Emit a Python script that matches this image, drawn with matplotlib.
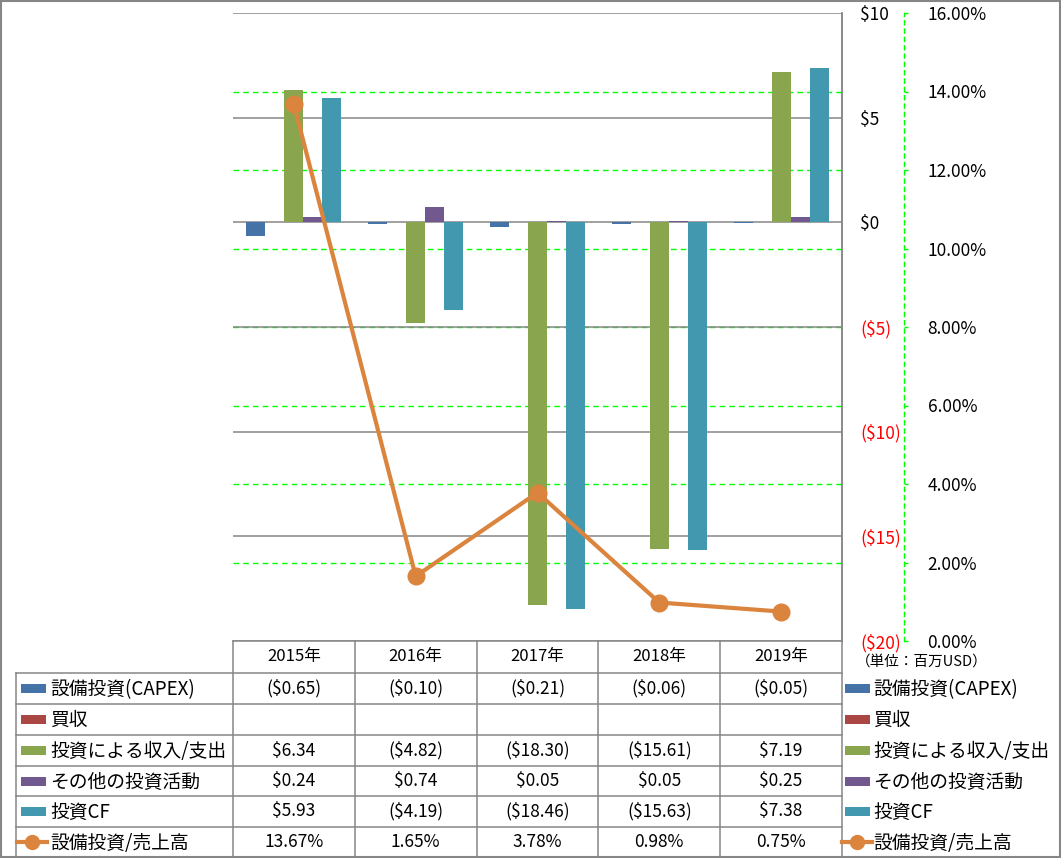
import numpy as np
import matplotlib.pyplot as plt
from matplotlib.patches import Rectangle
from matplotlib.lines import Line2D
from matplotlib.transforms import blended_transform_factory

plt.rcParams['font.family'] = ['Noto Sans CJK JP', 'DejaVu Sans']

# データ (単位: 百万USD)
years = ['2015年', '2016年', '2017年', '2018年', '2019年']
series_names = ['設備投資(CAPEX)', '買収', '投資による収入/支出', 'その他の投資活動', '投資CF']
capex = [-0.65, -0.10, -0.21, -0.06, -0.05]
kaishu = [np.nan, np.nan, np.nan, np.nan, np.nan]
toushi_shunyu = [6.34, -4.82, -18.30, -15.61, 7.19]
sonota = [0.24, 0.74, 0.05, 0.05, 0.25]
toushi_cf = [5.93, -4.19, -18.46, -15.63, 7.38]
ratio_name = '設備投資/売上高'
ratio = [13.67, 1.65, 3.78, 0.98, 0.75]  # %

colores = ['#4572A7', '#AA4643', '#89A54E', '#71588F', '#4198AF']
naranja = '#DB843D'
gris = '#868686'
verde = '#00FF00'

W, H = 1061, 858
fig = plt.figure(figsize=(W / 100, H / 100), dpi=100)

def caja(x0, y0, x1, y1):
    # pixel box -> figure fraction rect
    return [x0 / W, 1 - y1 / H, (x1 - x0) / W, (y1 - y0) / H]

ax = fig.add_axes(caja(233, 13, 842, 641))
ax2 = ax.twinx()

# Barras
todas = [capex, kaishu, toushi_shunyu, sonota, toushi_cf]
x = np.arange(len(years))
ancho = 0.156
for i, (vals, c) in enumerate(zip(todas, colores)):
    ax.bar(x + (i - 2) * ancho, vals, width=ancho, color=c, zorder=2)

ax.set_xlim(-0.5, len(years) - 0.5)
ax.set_xticks([])
ax.set_ylim(-20, 10)
yt = list(range(-20, 11, 5))

def fmt_dolar(v, dec=0):
    s = ('%.' + str(dec) + 'f') % abs(v)
    return '($%s)' % s if v < 0 else '$%s' % s

ax.set_yticks(yt, labels=[fmt_dolar(t) for t in yt])
ax.yaxis.tick_right()
ax.tick_params(axis='y', length=0, pad=13, labelsize=12.5)
for lab, t in zip(ax.get_yticklabels(), yt):
    lab.set_color('red' if t < 0 else 'black')
ax.yaxis.grid(True, color=gris, lw=1.1, zorder=0)
ax.set_axisbelow(True)
for s in ['left', 'top', 'bottom']:
    ax.spines[s].set_visible(False)
ax.spines['right'].set_color(gris)
ax.spines['right'].set_linewidth(1.1)
ax.patch.set_visible(False)

# Eje secundario
ax2.set_ylim(0, 16)
pt = list(range(0, 17, 2))
ax2.set_yticks(pt, labels=['%.2f%%' % p for p in pt])
ax2.tick_params(axis='y', length=3, width=1, color=verde, pad=14, labelsize=12.5)
for s in ['left', 'top', 'bottom']:
    ax2.spines[s].set_visible(False)
ax2.spines['right'].set_position(('axes', (904 - 233) / 609))
ax2.spines['right'].set_color(verde)
ax2.spines['right'].set_linestyle((0, (3, 3)))
ax2.spines['right'].set_linewidth(1)
ax2.plot(x, ratio, color=naranja, lw=3, marker='o', ms=12, zorder=3)

# lineas de grilla verdes (detras de las barras y de la grilla gris)
tr = blended_transform_factory(ax.transAxes, ax2.transData)
ax.hlines(pt[1:-1], 0, 1, transform=tr, colors=verde, lw=1,
          linestyles=(0, (4, 3)), zorder=0.2)

# Tabla de datos
tab = fig.add_axes([0, 0, 1, 1])
tab.set_xlim(0, W)
tab.set_ylim(H, 0)
tab.axis('off')
tab.patch.set_visible(False)

cols = np.linspace(233, 842, len(years) + 1)
filas = [673, 704, 735, 766, 796, 827, 857]
lw_t = 1.1
fs_num = 12.5

tab.plot([233, 842], [641, 641], color=gris, lw=lw_t)
for yy in filas[:-1]:
    tab.plot([16, 842], [yy, yy], color=gris, lw=lw_t)
for xx in cols:
    tab.plot([xx, xx], [641, 857], color=gris, lw=lw_t)
tab.plot([16, 16], [673, 857], color=gris, lw=lw_t)
tab.plot([842, 842], [13, 641], color=gris, lw=lw_t)

for j, yr in enumerate(years):
    tab.text((cols[j] + cols[j + 1]) / 2, 657, yr, ha='center', va='center',
             fontsize=12)

for i, vals in enumerate(todas):
    yc = (filas[i] + filas[i + 1]) / 2
    for j, v in enumerate(vals):
        if not np.isnan(v):
            tab.text((cols[j] + cols[j + 1]) / 2, yc, fmt_dolar(v, 2),
                     ha='center', va='center', fontsize=fs_num)
    for kx, tx in [(21, 50), (845, 873)]:
        tab.add_patch(Rectangle((kx, yc - 4.5), 25, 9, color=colores[i], lw=0))
        tab.text(tx, yc + 1, series_names[i], ha='left', va='center',
                 fontsize=13.5)

yc = (filas[5] + filas[6]) / 2
for j, v in enumerate(ratio):
    tab.text((cols[j] + cols[j + 1]) / 2, yc, '%.2f%%' % v,
             ha='center', va='center', fontsize=fs_num)
for lx, tx in [(17, 50), (842, 873)]:
    tab.add_line(Line2D([lx, lx + 30], [yc, yc], color=naranja, lw=3))
    tab.add_line(Line2D([lx + 15], [yc], color=naranja, marker='o', ms=10))
    tab.text(tx, yc + 1, ratio_name, ha='left', va='center', fontsize=13.5)

tab.text(856, 662, '（単位：百万USD）', ha='left', va='center', fontsize=10.5)

# borde
tab.add_patch(Rectangle((1, 1), W - 2, H - 2, fill=False, ec=gris, lw=1.5))

fig.savefig('out.png', dpi=100)
